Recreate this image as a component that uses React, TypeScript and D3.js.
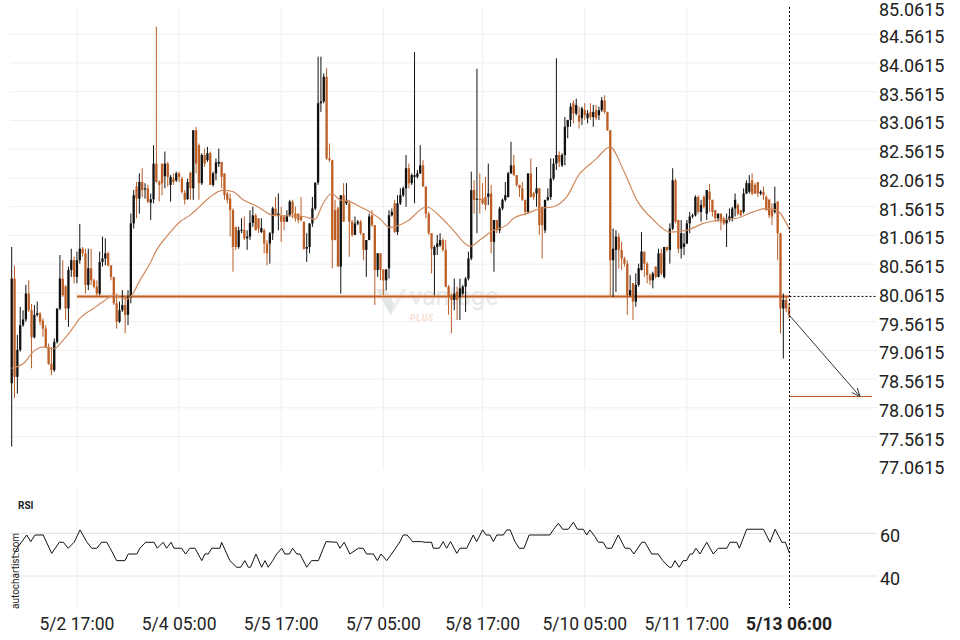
import React from 'react';
import * as d3 from 'd3';

// [open, high, low, close]
const candles: [number, number, number, number][] = [
[78.49,80.86,77.39,80.31],[80.31,80.54,78.23,78.60],[78.60,79.33,78.31,79.07],[79.07,79.82,79.04,79.50],[79.50,79.76,79.47,79.60],
[79.60,80.20,79.56,80.05],[80.05,80.28,79.73,79.76],[79.76,79.87,78.75,79.29],[79.29,79.85,79.27,79.68],[79.68,79.91,79.65,79.71],
[79.70,79.73,79.50,79.56],[79.58,79.62,79.30,79.44],[79.44,79.50,79.10,79.12],[79.12,79.18,78.81,78.83],[78.83,79.12,78.63,78.72],
[78.72,79.27,78.69,79.21],[79.21,79.79,79.18,79.79],[79.79,80.72,79.76,80.31],[80.31,80.63,79.99,80.02],[80.17,80.20,79.59,79.79],
[79.79,80.52,79.47,80.46],[80.46,80.83,80.34,80.63],[80.63,80.69,80.23,80.34],[80.34,80.78,80.23,80.63],[80.63,81.26,80.57,80.83],
[80.83,80.86,80.69,80.75],[80.75,80.83,80.05,80.20],[80.20,80.83,80.11,80.49],[80.49,80.83,80.20,80.28],[80.28,80.31,80.14,80.17],
[80.17,80.28,79.99,80.05],[80.05,80.78,80.02,80.60],[80.60,81.04,80.52,80.66],[80.66,81.01,80.54,80.75],[80.75,80.78,80.52,80.54],
[80.54,80.54,80.28,80.34],[80.34,80.34,79.85,79.88],[79.88,80.05,79.44,79.56],[79.56,79.91,79.54,79.76],[79.76,80.11,79.73,79.85],
[79.85,80.02,79.36,79.68],[79.68,80.11,79.50,79.99],[79.99,81.44,79.88,81.27],[81.27,81.85,81.18,81.76],[81.91,81.99,81.36,81.70],
[81.70,82.14,81.44,81.99],[81.99,82.23,81.73,81.85],[81.86,81.97,81.70,81.88],[81.88,81.94,81.62,81.65],[81.63,81.79,81.33,81.69],
[81.69,82.63,81.62,82.31],[82.31,84.69,81.98,81.99],[81.99,82.02,81.65,81.94],[82.31,82.31,81.76,81.97],[82.09,82.52,81.88,82.31],
[82.31,82.34,81.91,82.08],[81.94,82.11,81.65,82.08],[82.05,82.14,81.94,81.99],[82.02,82.17,81.99,82.14],[82.14,82.17,81.99,82.08],
[82.05,82.08,81.79,81.82],[81.80,81.85,81.60,81.68],[81.69,82.05,81.68,81.99],[82.15,82.17,81.68,81.88],[81.88,82.89,81.68,82.89],
[82.89,82.95,82.14,82.31],[82.63,82.66,81.68,81.97],[81.97,82.49,81.94,82.46],[82.46,82.57,82.25,82.31],[82.37,82.60,82.34,82.49],
[82.49,82.52,81.94,81.94],[81.94,82.17,81.91,82.14],[82.14,82.40,82.02,82.33],[82.31,82.57,82.25,82.34],[82.34,82.34,81.88,82.08],
[82.14,82.14,81.68,81.76],[81.79,81.82,81.62,81.68],[81.70,81.79,81.04,81.50],[81.50,81.53,80.43,80.86],[81.21,81.21,80.81,80.86],
[80.86,81.21,80.83,81.15],[81.15,81.36,81.10,81.16],[81.16,81.39,80.98,81.01],[81.01,81.15,80.81,81.04],[81.04,81.50,80.98,81.28],
[81.28,81.56,81.21,81.41],[81.41,81.44,81.15,81.15],[81.36,81.36,81.10,81.18],[81.12,81.36,81.10,81.19],[81.15,81.18,80.75,80.92],
[80.92,80.98,80.54,80.75],[80.92,81.12,80.57,81.10],[81.10,81.56,80.98,81.53],[81.53,81.73,81.39,81.41],[81.41,81.79,81.15,81.44],
[81.41,81.56,80.95,81.30],[81.39,81.41,81.15,81.30],[81.30,81.50,81.30,81.41],[81.41,81.68,81.39,81.65],[81.65,81.68,81.36,81.44],
[81.44,81.56,81.30,81.36],[81.44,81.44,81.27,81.33],[81.39,81.73,81.30,81.33],[81.30,81.30,80.81,80.83],[80.83,81.10,80.60,80.86],
[80.86,81.27,80.75,81.27],[81.27,81.73,81.21,81.53],[81.53,81.98,81.50,81.98],[81.98,84.17,81.94,83.36],[83.36,84.17,83.21,83.39],
[83.39,83.88,83.36,83.82],[83.82,83.97,82.37,82.40],[82.40,82.66,82.34,82.37],[82.37,82.37,80.49,80.98],[81.50,81.68,80.98,80.98],
[81.53,81.56,80.52,80.52],[80.52,81.76,80.05,81.76],[81.76,81.97,81.30,81.30],[81.62,81.97,81.59,81.68],[81.62,81.68,80.69,81.30],
[81.30,81.33,81.04,81.07],[81.07,81.39,81.07,81.27],[81.27,81.33,81.24,81.30],[81.30,81.33,81.07,81.10],[81.10,81.10,80.63,80.81],
[80.81,80.98,80.34,80.98],[80.98,81.44,80.98,81.39],[81.41,81.50,81.21,81.24],[81.24,81.24,79.85,80.46],[80.46,80.75,80.34,80.75],
[80.75,80.75,80.28,80.46],[80.47,80.47,80.02,80.28],[80.28,80.47,80.11,80.47],[80.49,81.50,80.31,81.41],[81.41,81.53,81.39,81.47],
[81.62,81.68,81.10,81.12],[81.12,81.76,81.07,81.62],[81.62,81.88,81.59,81.76],[81.76,81.91,81.73,81.88],[81.88,82.46,81.56,82.23],
[82.23,82.31,81.88,81.97],[81.97,82.14,81.94,82.11],[82.08,84.25,81.62,82.11],[82.08,82.20,82.05,82.14],[82.14,82.63,82.13,82.28],
[82.28,82.37,81.91,81.91],[81.91,81.91,81.36,81.44],[81.44,81.47,81.07,81.10],[81.10,81.10,80.40,80.83],[80.72,80.89,80.02,80.86],
[80.86,81.07,80.72,80.92],[80.89,81.10,80.86,80.98],[80.98,81.01,80.78,80.81],[80.81,80.98,80.16,80.17],[80.17,80.20,79.68,79.99],
[80.02,80.05,79.36,79.94],[79.94,80.31,79.76,80.05],[80.08,80.17,79.59,79.94],[79.99,80.31,79.59,80.14],[80.05,80.20,80.02,80.17],
[80.17,80.34,79.73,80.31],[80.31,80.78,80.28,80.66],[80.66,82.17,80.63,81.85],[81.85,82.02,81.44,81.68],[81.68,83.96,81.10,81.70],
[81.70,82.14,81.44,81.68],[81.70,81.97,81.60,81.62],[81.73,82.08,81.50,81.59],[81.73,82.31,81.59,81.79],[81.79,81.94,80.75,80.95],
[80.95,81.33,80.43,81.33],[81.33,81.33,81.10,81.15],[81.15,81.56,81.10,81.53],[81.53,81.70,81.50,81.68],[81.68,81.99,81.65,81.76],
[81.73,82.17,81.72,82.14],[82.14,82.69,82.13,82.28],[82.28,82.46,82.09,82.11],[82.11,82.11,81.91,81.94],[81.94,81.94,81.73,81.88],
[81.88,81.99,81.66,81.68],[81.68,81.68,81.41,81.47],[81.47,82.14,81.44,82.14],[82.14,82.40,81.72,81.73],[81.79,81.82,81.68,81.73],
[81.79,82.25,81.56,81.88],[81.88,81.88,81.07,81.24],[81.56,81.56,80.66,81.24],[81.15,81.68,81.10,81.68],[81.68,81.88,81.66,81.73],
[81.73,82.40,81.68,82.05],[82.05,82.40,82.02,82.31],[82.31,84.14,82.20,82.46],[82.46,82.52,82.25,82.34],[82.28,82.49,82.25,82.46],
[82.46,83.12,82.28,82.95],[82.95,83.07,82.75,83.07],[83.07,83.36,82.95,83.30],[83.36,83.41,83.01,83.18],[83.18,83.44,83.15,83.33],
[83.15,83.30,82.92,83.04],[83.10,83.30,82.98,83.27],[83.24,83.36,83.07,83.15],[83.10,83.24,83.01,83.18],[83.21,83.36,83.07,83.12],
[83.12,83.33,82.95,83.21],[83.24,83.33,83.07,83.10],[83.15,83.30,83.07,83.24],[83.24,83.47,83.21,83.41],[83.41,83.50,83.18,83.21],
[83.21,83.21,82.88,82.89],[82.89,82.89,79.99,80.63],[80.63,81.18,79.99,80.83],[80.81,81.15,80.08,81.04],[81.04,81.10,80.49,80.81],
[80.81,80.95,80.46,80.66],[80.66,80.69,80.52,80.57],[80.57,80.63,79.68,80.02],[80.02,80.37,80.00,80.11],[80.23,80.23,79.59,79.91],
[79.91,80.40,79.82,80.20],[80.20,80.57,80.17,80.49],[80.46,81.12,80.45,80.78],[80.78,80.78,80.34,80.57],[80.57,80.60,80.23,80.37],
[80.37,80.40,80.20,80.28],[80.28,80.43,80.14,80.40],[80.52,80.52,80.31,80.34],[80.34,80.83,80.33,80.75],[80.75,80.83,80.37,80.40],
[80.34,80.86,80.31,80.86],[80.86,80.87,80.78,80.81],[80.81,81.27,80.57,81.18],[81.18,82.23,81.15,82.02],[82.02,82.05,81.27,81.30],
[81.33,81.33,80.75,80.83],[80.83,81.33,80.66,81.10],[80.86,81.10,80.72,80.92],[80.92,81.33,80.91,81.27],[81.27,81.47,81.10,81.39],
[81.39,81.44,81.36,81.41],[81.41,81.76,81.39,81.73],[81.73,81.76,81.44,81.47],[81.47,81.68,81.30,81.59],[81.73,81.76,81.53,81.56],
[81.44,81.85,81.33,81.85],[81.82,81.96,81.47,81.68],[81.68,81.68,81.39,81.47],[81.50,81.50,81.30,81.36],[81.36,81.44,81.30,81.44],
[81.44,81.44,81.15,81.30],[81.36,81.39,81.24,81.27],[81.27,81.44,80.86,81.33],[81.33,81.53,81.30,81.39],[81.36,81.56,81.30,81.53],
[81.53,81.79,81.39,81.68],[81.59,81.62,81.41,81.44],[81.50,81.51,81.40,81.41],[81.47,81.88,81.44,81.79],[81.79,82.02,81.78,81.97],
[81.82,82.11,81.79,81.97],[82.02,82.14,81.76,81.79],[81.94,81.97,81.78,81.79],[81.99,81.99,81.73,81.79],[81.79,81.85,81.76,81.82],
[81.82,81.91,81.68,81.76],[81.73,81.76,81.49,81.50],[81.68,81.70,81.36,81.41],[81.50,81.62,81.24,81.39],[81.47,81.91,81.44,81.62],
[81.65,81.65,80.63,81.10],[81.10,81.10,79.36,79.79],[79.79,80.05,78.92,79.94],[79.94,79.99,79.73,79.79],[79.79,79.88,79.62,79.68],
];

// moving average: [candle index, price]
const maLine: [number, number][] = [
[0,78.75],[4.7,78.86],[7.6,79.04],[11,79.12],[15,79.09],[17.6,79.21],[20.5,79.38],[24,79.62],[28.8,79.79],[32.3,79.91],
[35.8,80.02],[40.5,79.95],[42.3,80.02],[45.2,80.28],[48.7,80.57],[51.1,80.81],[54.6,81.04],[59.3,81.30],[62.8,81.41],[66.4,81.57],
[69.9,81.73],[74.6,81.85],[78.1,81.82],[81.6,81.68],[86.4,81.57],[92.2,81.41],[98.1,81.40],[102.8,81.39],[106.9,81.34],[109.8,81.62],
[112.8,81.79],[115.7,81.68],[119.2,81.65],[122.8,81.56],[126.3,81.47],[129.8,81.35],[133.3,81.20],[139.2,81.30],[146.3,81.56],[151,81.39],
[155.7,81.15],[161.5,80.87],[165,80.98],[169.8,81.15],[174.5,81.24],[176.9,81.36],[181.5,81.44],[186.3,81.53],[191,81.56],[195.6,81.73],
[200.3,82.14],[201.5,82.20],[206.2,82.40],[208.5,82.52],[210.9,82.60],[215.6,82.20],[220.3,81.68],[226.2,81.33],[232,81.12],[237.9,81.15],
[243.8,81.27],[249.7,81.33],[255.5,81.36],[261.4,81.47],[266.1,81.53],[269.6,81.50],[274.3,81.15],
];

// RSI: [candle index, value]
const rsiLine: [number, number][] = [
[0.6,49.8],[2.3,53.75],[5.3,59.2],[6.7,56.1],[8.2,59.2],[11.1,59.2],[14.1,50.6],[16.8,55.8],[18.2,55.8],[19.9,53.0],
[22,55.8],[24.1,61.6],[26.4,56.1],[28.2,53.0],[30,53.0],[31.7,55.8],[33.5,55.8],[34.7,53.0],[37,47.2],[39.9,47.2],
[41.1,50.3],[44.1,50.3],[45.2,53.0],[47.2,55.8],[50.2,55.8],[51.3,53.0],[53.4,55.8],[54.6,53.0],[56.2,55.8],[57.2,53.0],
[59.9,53.0],[61.3,50.3],[62.8,53.0],[64.6,53.0],[67,47.2],[68.1,50.3],[69.3,50.3],[70.5,53.0],[73.4,53.0],[74,55.8],
[76.9,47.2],[79.3,44.1],[80.7,44.1],[82.2,47.2],[83.4,44.1],[84.2,44.1],[86.1,50.3],[88.1,44.1],[89.3,47.2],[90.4,44.1],
[92,47.2],[93.4,50.3],[95.2,53.0],[96.3,50.3],[97.9,50.3],[99,53.0],[100.5,50.3],[101.6,50.3],[104,44.1],[105.7,47.2],
[108.1,47.2],[110.8,56.1],[114.6,55.8],[115.7,53.0],[117.2,55.8],[119.2,50.3],[122.2,53.0],[123.9,53.0],[125.1,50.3],[127.5,50.3],
[128.9,47.2],[130.2,50.3],[132.2,47.2],[133.9,50.3],[136.9,56.1],[138,59.2],[139.4,59.2],[141.3,56.1],[144.5,56.1],[145.7,55.8],
[148,55.8],[148.6,53.0],[150.7,53.0],[152.1,56.1],[153.3,53.0],[154.7,56.1],[156.9,50.6],[158,53.0],[160.4,53.0],[162.7,59.2],
[163.9,56.1],[165.1,59.2],[166,61.6],[167.2,59.2],[168.6,59.2],[169.8,56.1],[171,59.2],[173.3,59.2],[174.5,61.6],[175.7,61.6],
[177.4,56.1],[178.9,53.0],[180.6,53.0],[182.4,59.2],[189.7,59.2],[190.9,61.6],[192.7,64.7],[194.2,61.9],[196.2,61.9],[198,65.2],
[199.4,61.9],[201.5,61.9],[202.7,59.2],[203.8,61.6],[205.6,58.4],[206.8,55.8],[208.5,55.8],[209.7,53.0],[211.5,53.0],[213.8,59.2],
[216.2,53.0],[217.9,53.0],[219.3,50.3],[222.1,55.8],[223.2,55.8],[225.6,50.3],[227.9,50.3],[229.5,47.2],[231.8,44.1],[232.6,44.1],
[233.8,47.2],[235.3,44.1],[236.7,47.2],[237.9,47.2],[239.1,50.3],[240,50.3],[241.2,53.0],[242.6,50.3],[245,55.8],[247.3,50.3],
[249.1,53.0],[252.1,53.0],[253.2,55.8],[255.6,55.8],[256.5,53.0],[259.1,61.9],[265,61.9],[267.3,55.8],[269.1,61.9],[271.5,55.8],
[272.7,55.8],[274.2,50.6],
];

const yTicks = [85.0615, 84.5615, 84.0615, 83.5615, 83.0615, 82.5615, 82.0615, 81.5615, 81.0615, 80.5615, 80.0615, 79.5615, 79.0615, 78.5615, 78.0615, 77.5615, 77.0615];
const yGridTicks = [84.5615, 84.0615, 83.5615, 83.0615, 82.5615, 82.0615, 81.5615, 81.0615, 80.5615, 80.0615, 79.5615, 79.0615, 78.5615, 78.0615, 77.5615];
const rsiTicks = [60, 40];
const xTickIdx = [23, 59, 95, 131, 166, 202, 238, 274];
const xTickLabels = ['5/2 17:00', '5/4 05:00', '5/5 17:00', '5/7 05:00', '5/8 17:00', '5/10 05:00', '5/11 17:00', '5/13 06:00'];

const supportLevel = 80.0;
const supportStartIdx = 23;
const currentIdx = 274;
const arrowStartPrice = 79.67;
const targetLevel = 78.26;

const ORANGE = '#bc5e26';
const HALO = '#ebbfa3';
const BLACK = '#111111';
const MA_COLOR = '#d08a5e';
const GRID = '#efefef';
const FONT = 'Roboto, "Noto Sans", sans-serif';

export default function App() {
  const W = 960, H = 640;
  const x = d3.scaleLinear().domain([0, candles.length - 1]).range([11.7, 789]);
  const y = d3.scaleLinear().domain([77.0615, 85.0615]).range([465.4, 5.4]);
  const ry = d3.scaleLinear().domain([40, 60]).range([576, 533.3]);
  const bw = 2.3;

  const maPath = d3.line<[number, number]>().x(d => x(d[0])).y(d => y(d[1])).curve(d3.curveMonotoneX)(maLine) || '';
  const rsiPath = d3.line<[number, number]>().x(d => x(d[0])).y(d => ry(d[1]))(rsiLine) || '';

  const cx = x(currentIdx) + 0.5;
  const ax2 = 860, ay2 = y(targetLevel);
  const ax1 = cx, ay1 = y(arrowStartPrice);
  const ang = Math.atan2(ay2 - ay1, ax2 - ax1);
  const ah = 9;
  const head1 = [ax2 - ah * Math.cos(ang - 0.4), ay2 - ah * Math.sin(ang - 0.4)];
  const head2 = [ax2 - ah * Math.cos(ang + 0.4), ay2 - ah * Math.sin(ang + 0.4)];

  return (
    <div style={{ position: 'fixed', left: 0, top: 0, width: W, height: H, background: '#fff' }}>
      <svg width={W} height={H} style={{ display: 'block', fontFamily: FONT }}>
        <rect width={W} height={H} fill="#fff" />
        {/* horizontal grid */}
        {yGridTicks.map(t => (
          <line key={'g' + t} x1={10} x2={877} y1={y(t)} y2={y(t)} stroke={GRID} strokeWidth={1} />
        ))}
        {/* vertical grid */}
        {xTickIdx.slice(0, -1).map(i => (
          <g key={'vg' + i}>
            <line x1={x(i)} x2={x(i)} y1={7} y2={470} stroke={GRID} strokeWidth={1} />
            <line x1={x(i)} x2={x(i)} y1={488} y2={608} stroke={GRID} strokeWidth={1} />
          </g>
        ))}
        {rsiTicks.map(t => (
          <line key={'rg' + t} x1={10} x2={877} y1={ry(t)} y2={ry(t)} stroke="#e2e2e2" strokeWidth={1} />
        ))}

        {/* watermark */}
        <g>
          <path d="M376,289 L386,289 L394,304 L391,316 Z" fill="#e3e6e7" />
          <path d="M394,304 L402,289 L407,289 L391,316 Z" fill="#eceeef" />
          <text x={410} y={305} fontSize={25} fill="#e6e8e9" fontFamily={FONT}>vantage</text>
          <text x={410} y={321} fontSize={8.5} fontWeight="bold" fontStyle="italic" fill="#f5dccd" letterSpacing={1}>PLUS</text>
        </g>

        {/* support line */}
        <line x1={x(supportStartIdx)} x2={cx} y1={y(supportLevel)} y2={y(supportLevel)} stroke={HALO} strokeWidth={3.6} />
        <line x1={x(supportStartIdx)} x2={cx} y1={y(supportLevel)} y2={y(supportLevel)} stroke={ORANGE} strokeWidth={1.5} />

        {/* candles */}
        {candles.map((c, i) => {
          const [o, h, l, cl] = c;
          const up = cl >= o;
          const col = up ? BLACK : ORANGE;
          const top = y(Math.max(o, cl));
          const bot = y(Math.min(o, cl));
          return (
            <g key={'c' + i}>
              <line x1={x(i)} x2={x(i)} y1={y(h)} y2={y(l)} stroke={col} strokeWidth={1} />
              <rect x={x(i) - bw / 2} y={top} width={bw} height={Math.max(1, bot - top)} fill={col} />
            </g>
          );
        })}

        {/* moving average */}
        <path d={maPath} fill="none" stroke={MA_COLOR} strokeWidth={1.2} />

        {/* current time dashed line */}
        <line x1={cx} x2={cx} y1={7} y2={608} stroke="#000" strokeWidth={1} strokeDasharray="2,2" />
        <line x1={cx} x2={877} y1={y(supportLevel)} y2={y(supportLevel)} stroke="#000" strokeWidth={1} strokeDasharray="2,2" />

        {/* forecast arrow and target */}
        <line x1={cx} x2={872} y1={ay2} y2={ay2} stroke={ORANGE} strokeWidth={1.2} />
        <line x1={ax1} y1={ay1} x2={ax2} y2={ay2} stroke="#333" strokeWidth={1} />
        <polyline points={`${head1[0]},${head1[1]} ${ax2},${ay2} ${head2[0]},${head2[1]}`} fill="none" stroke="#333" strokeWidth={1} />

        {/* y labels */}
        {yTicks.map((t, k) => (
          <text key={'yl' + t} x={879} y={y(t) + (k === 0 ? 4.5 : 2.5)} fontSize={18} fill="#222" dominantBaseline="central">{t.toFixed(4)}</text>
        ))}

        {/* RSI */}
        <text x={18} y={505} fontSize={10} fontWeight="bold" fill="#222" dominantBaseline="central">RSI</text>
        <path d={rsiPath} fill="none" stroke="#111" strokeWidth={1} />
        {rsiTicks.map(t => (
          <text key={'rl' + t} x={880} y={ry(t) + 2.5} fontSize={18} fill="#222" dominantBaseline="central">{t}</text>
        ))}

        {/* x labels */}
        {xTickIdx.map((i, k) => (
          <text key={'xl' + i} x={x(i)} y={624} fontSize={17.5} fill="#222" textAnchor="middle" dominantBaseline="central"
            fontWeight={k === xTickIdx.length - 1 ? 'bold' : 'normal'}>{xTickLabels[k]}</text>
        ))}

        {/* credit */}
        <text transform="translate(19,609) rotate(-90)" fontSize={10} fill="#222">autochartist.com</text>
      </svg>
    </div>
  );
}
